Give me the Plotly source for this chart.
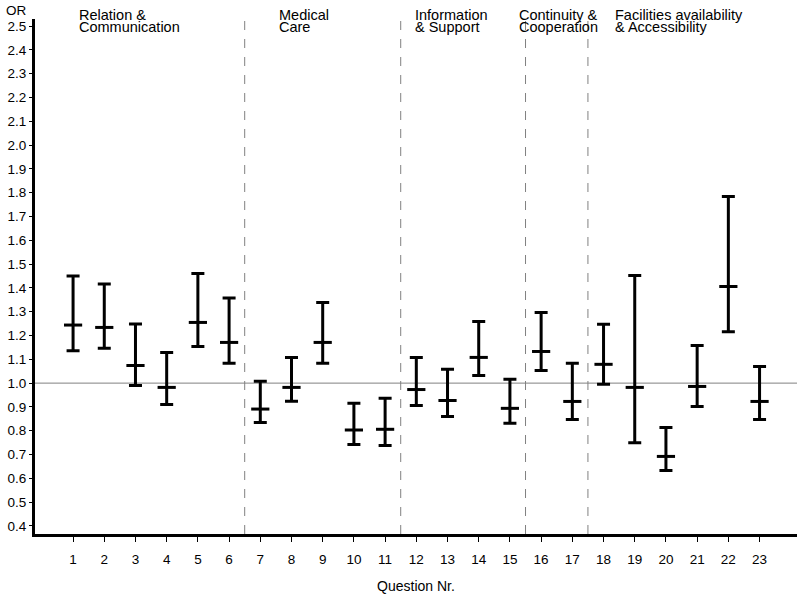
import plotly.graph_objects as go

questions = list(range(1, 24))
or_est = [1.244, 1.234, 1.074, 0.982, 1.255, 1.171, 0.891, 0.982, 1.171, 0.803, 0.806,
          0.973, 0.927, 1.108, 0.894, 1.133, 0.923, 1.079, 0.982, 0.692, 0.986, 1.406, 0.923]
ci_low = [1.136, 1.146, 0.990, 0.910, 1.154, 1.083, 0.835, 0.924, 1.083, 0.742, 0.738,
          0.906, 0.860, 1.032, 0.831, 1.053, 0.847, 0.995, 0.749, 0.633, 0.902, 1.216, 0.847]
ci_high = [1.450, 1.416, 1.248, 1.129, 1.461, 1.358, 1.008, 1.108, 1.339, 0.915, 0.936,
           1.108, 1.058, 1.259, 1.016, 1.297, 1.083, 1.247, 1.452, 0.814, 1.158, 1.784, 1.070]
group_bounds = [6.5, 11.5, 15.5, 17.5]
group_line1 = ["Relation &", "Medical", "Information", "Continuity &", "Facilities availability"]
group_line2 = ["Communication", "Care", "& Support", "Cooperation", "& Accessibility"]
group_x = [1.13, 7.54, 11.9, 15.24, 18.31]
y_ticks = [round(0.4 + 0.1 * i, 1) for i in range(22)]

FONT = "Liberation Sans, Arial, sans-serif"

W, H = 800, 600
ML, MR, MT, MB = 35, 3, 19, 66
PW = W - ML - MR
PH = H - MT - MB


def py(page_y):
    """paper y from a pixel row"""
    return (H - MB - page_y) / PH


def px(page_x):
    """paper x from a pixel column"""
    return (page_x - ML) / PW


fig = go.Figure()
fig.add_trace(go.Scatter(
    x=questions, y=or_est, mode="markers",
    marker=dict(symbol="line-ew", size=13, line=dict(width=3, color="black"), color="black"),
    error_y=dict(type="data", symmetric=False,
                 array=[h - e for h, e in zip(ci_high, or_est)],
                 arrayminus=[e - l for e, l in zip(or_est, ci_low)],
                 color="black", thickness=3, width=6.5),
    showlegend=False, hoverinfo="skip",
))

shapes = [dict(type="line", xref="paper", yref="y", x0=0, x1=1, y0=1.0, y1=1.0,
               line=dict(color="#808080", width=1), layer="below")]
for b in group_bounds:
    shapes.append(dict(type="line", xref="x", yref="paper", x0=b, x1=b, y0=0, y1=1,
                       line=dict(color="#808080", width=1, dash="dash"), layer="below"))

annotations = []
for gx, l1, l2 in zip(group_x, group_line1, group_line2):
    annotations.append(dict(x=gx, y=py(15.5), xref="x", yref="paper", text=l1, showarrow=False,
                            xanchor="left", yanchor="middle",
                            font=dict(size=14.5, color="black", family=FONT)))
    annotations.append(dict(x=gx, y=py(27), xref="x", yref="paper", text=l2, showarrow=False,
                            xanchor="left", yanchor="middle",
                            font=dict(size=14.5, color="black", family=FONT)))
annotations.append(dict(x=px(4), y=py(10), xref="paper", yref="paper", text="OR",
                        showarrow=False, xanchor="left", yanchor="middle",
                        font=dict(size=13.5, color="black", family=FONT)))

fig.update_layout(
    width=W, height=H,
    margin=dict(l=ML, r=MR, t=MT, b=MB, autoexpand=False),
    plot_bgcolor="white", paper_bgcolor="white",
    font=dict(family=FONT, size=13.5, color="black"),
    shapes=shapes, annotations=annotations,
    xaxis=dict(range=[-0.22, 24.2], tickmode="array", tickvals=questions,
               ticktext=[str(q) for q in questions], showgrid=False, zeroline=False,
               showline=True, linecolor="black", linewidth=3, automargin=False,
               ticks="outside", ticklen=5, tickwidth=1, tickcolor="black",
               ticklabelstandoff=6,
               title=dict(text="Question Nr.", font=dict(size=14), standoff=15)),
    yaxis=dict(range=[0.366, 2.53], tickmode="array", tickvals=y_ticks,
               ticktext=[f"{v:.1f}" for v in y_ticks], showgrid=False, zeroline=False,
               showline=True, linecolor="black", linewidth=3, automargin=False,
               ticks="outside", ticklen=3, tickwidth=1, tickcolor="black"),
)

fig.write_html("out.html", config={"displayModeBar": False},
               post_script="document.body.style.margin='0';")
